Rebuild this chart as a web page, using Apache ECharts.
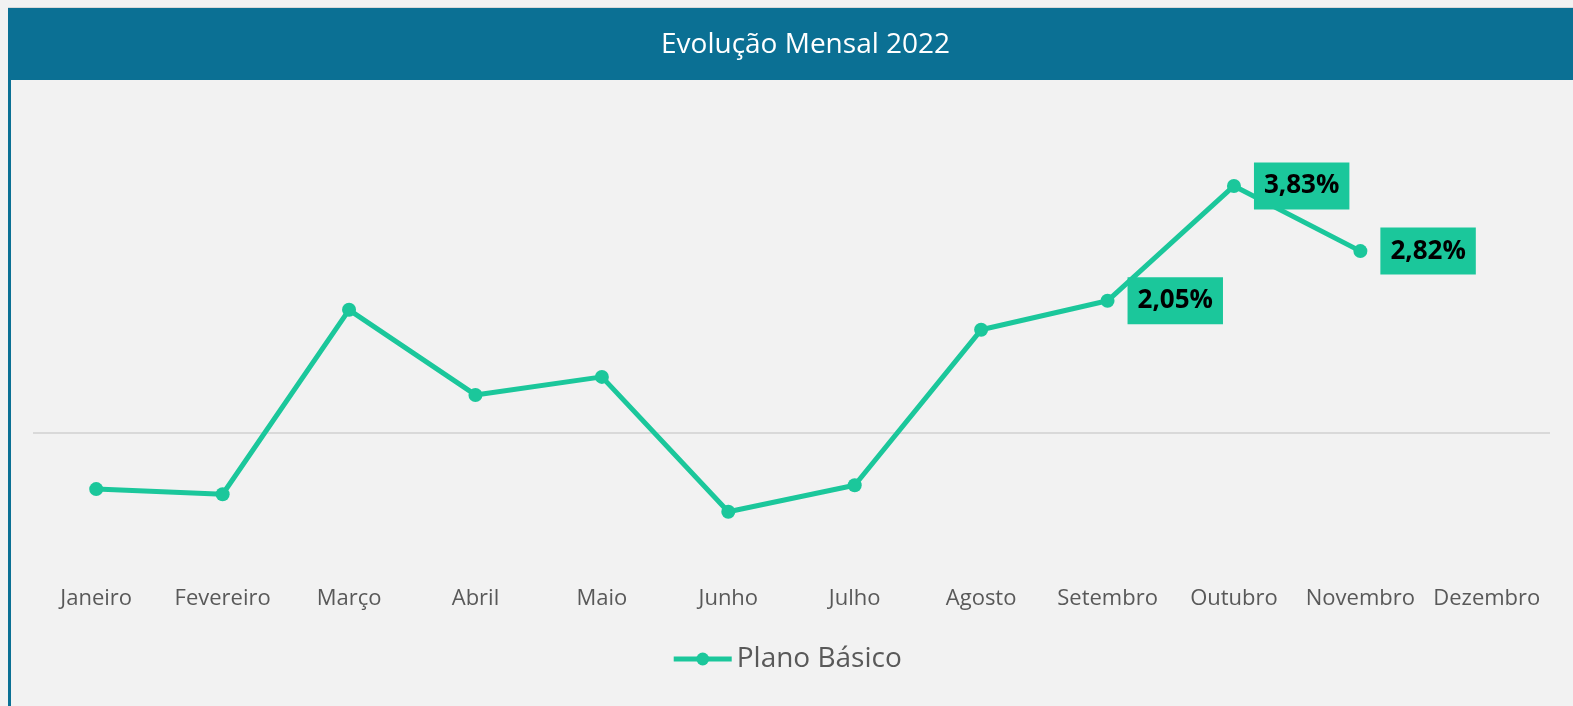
<!DOCTYPE html>
<html>
<head>
<meta charset="utf-8">
<title>Evolução Mensal 2022</title>
<script src="https://cdn.jsdelivr.net/npm/echarts@6/dist/echarts.min.js"></script>
<style>
  html, body { margin: 0; padding: 0; background: #f2f2f2; }
  #chart { width: 1573px; height: 706px; }
</style>
</head>
<body>
<div id="chart"></div>
<script>
// dados do gráfico
const meses = ["Janeiro", "Fevereiro", "Março", "Abril", "Maio", "Junho",
  "Julho", "Agosto", "Setembro", "Outubro", "Novembro", "Dezembro"];
const planoBasico = [-0.87, -0.95, 1.91, 0.59, 0.87, -1.22, -0.81, 1.60, 2.05, 3.83, 2.82, null];
const mesesComRotulo = ["Setembro", "Outubro", "Novembro"];

const verde = "#1bc79b";
const azul = "#0b7094";

const chart = echarts.init(document.getElementById("chart"));

const serieData = planoBasico.map(function (v, i) {
  if (mesesComRotulo.indexOf(meses[i]) >= 0) {
    return { value: v, label: { show: true } };
  }
  return v;
});

chart.setOption({
  backgroundColor: "#f2f2f2",
  animation: false,
  graphic: [
    // faixa do título
    { type: "rect", shape: { x: 8, y: 8, width: 1565, height: 72 }, style: { fill: azul }, z: 0 },
    { type: "rect", shape: { x: 8, y: 7, width: 1565, height: 1 }, style: { fill: "#d9d9d9" }, z: 0 },
    // borda esquerda
    { type: "rect", shape: { x: 8, y: 8, width: 3, height: 698 }, style: { fill: azul }, z: 0 }
  ],
  title: {
    text: "Evolução Mensal 2022",
    left: 656,
    top: 26,
    textStyle: {
      color: "#ffffff",
      fontFamily: "Open Sans",
      fontWeight: "normal",
      fontSize: 28
    }
  },
  legend: {
    bottom: 28,
    left: "center",
    itemWidth: 58,
    itemHeight: 16,
    itemGap: 2,
    lineStyle: { width: 5 },
    textStyle: {
      color: "#595959",
      fontFamily: "Open Sans",
      fontSize: 28
    },
    data: ["Plano Básico"]
  },
  grid: {
    left: 33,
    right: 23,
    top: 110.5,
    bottom: 144
  },
  xAxis: {
    type: "category",
    data: meses,
    boundaryGap: true,
    axisLine: { show: false },
    axisTick: { show: false },
    axisLabel: {
      margin: 26,
      interval: 0,
      color: "#595959",
      fontFamily: "Open Sans",
      fontSize: 22
    }
  },
  yAxis: {
    type: "value",
    min: -2,
    max: 5,
    show: false,
    splitLine: { show: false }
  },
  series: [
    {
      name: "Plano Básico",
      type: "line",
      data: serieData,
      color: verde,
      symbol: "circle",
      symbolSize: 14,
      lineStyle: { width: 5, color: verde },
      itemStyle: { color: verde },
      label: {
        show: false,
        position: "right",
        distance: 13,
        backgroundColor: verde,
        padding: [11, 10, 10, 10],
        color: "#000000",
        fontFamily: "Open Sans",
        fontWeight: "bold",
        fontSize: 26,
        formatter: function (p) {
          return p.value.toFixed(2).replace(".", ",") + "%";
        }
      },
      markLine: {
        silent: true,
        symbol: "none",
        label: { show: false },
        lineStyle: { color: "#d9d9d9", width: 2, type: "solid" },
        data: [{ yAxis: 0 }],
        z: 1
      },
      z: 3
    }
  ]
});
</script>
</body>
</html>
